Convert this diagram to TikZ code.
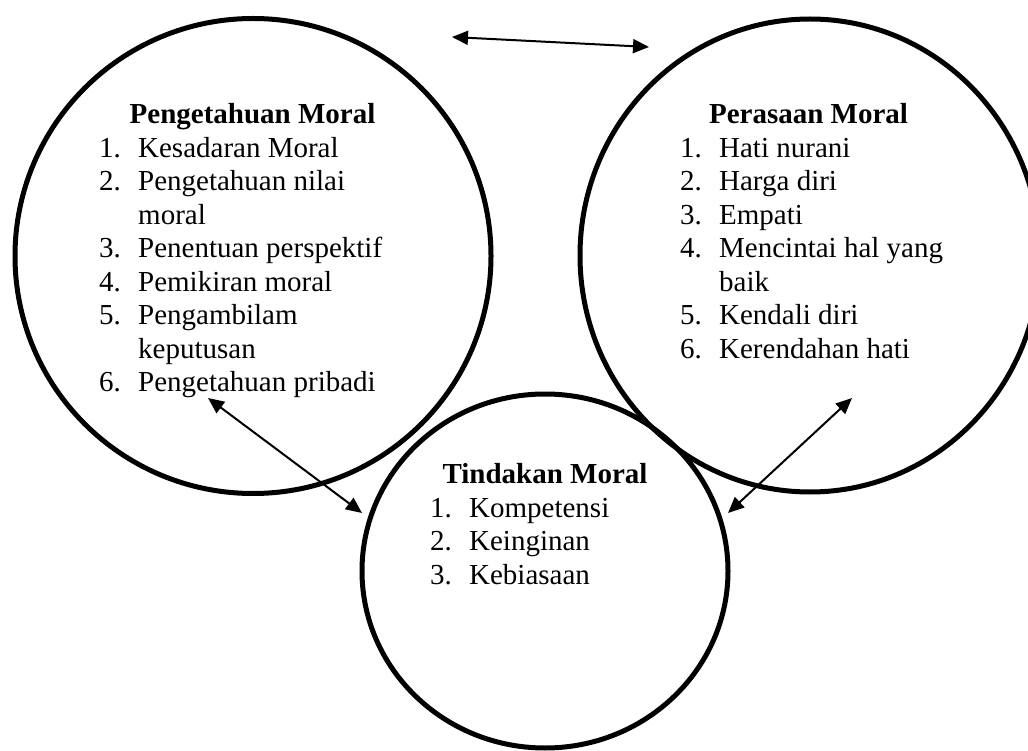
\documentclass[tikz,border=0pt]{standalone}
\usepackage{fontspec}
\setmainfont{Liberation Serif}
\usetikzlibrary{arrows.meta,shapes.geometric}
\begin{document}
\begin{tikzpicture}[x=1pt,y=-1pt,
  ring/.style={draw=black, line width=5pt, ellipse, inner sep=0pt, outer sep=0pt},
  conn/.style={line width=2pt, {Triangle[length=16pt,width=14pt]}-{Triangle[length=16pt,width=14pt]}},
  ttl/.style={font=\fontsize{29}{33.5}\selectfont\bfseries, anchor=base, inner sep=0pt},
  lst/.style={font=\fontsize{29}{33.5}\selectfont, anchor=base west, inner sep=0pt}
]
\useasboundingbox (0,0) rectangle (1028,751);

% circles
\node[ring, minimum width=476pt, minimum height=475pt] (cknow) at (253,256) {};
\node[ring, minimum width=460pt, minimum height=473pt] (cfeel) at (810,255.5) {};
\node[ring, minimum width=366pt, minimum height=354pt] (cact) at (545,571) {};

% texts
\node[ttl] (tknow) at (252.5,124) {Pengetahuan Moral};
\node[lst] (lknow) at (99,157.5) {\begin{tabular}[t]{@{}p{39pt}@{}l@{}}
1. & Kesadaran Moral\\
2. & Pengetahuan nilai\\
   & moral\\
3. & Penentuan perspektif\\
4. & Pemikiran moral\\
5. & Pengambilam\\
   & keputusan\\
6. & Pengetahuan pribadi
\end{tabular}};

\node[ttl] (tfeel) at (808.5,124) {Perasaan Moral};
\node[lst] (lfeel) at (680,157.5) {\begin{tabular}[t]{@{}p{39pt}@{}l@{}}
1. & Hati nurani\\
2. & Harga diri\\
3. & Empati\\
4. & Mencintai hal yang\\
   & baik\\
5. & Kendali diri\\
6. & Kerendahan hati
\end{tabular}};

\node[ttl] (tact) at (545,483) {Tindakan Moral};
\node[lst] (lact) at (430,517) {\begin{tabular}[t]{@{}p{39pt}@{}l@{}}
1. & Kompetensi\\
2. & Keinginan\\
3. & Kebiasaan
\end{tabular}};

% arrow end points
\coordinate (ta) at (452,37);
\coordinate (tb) at (649,47);
\coordinate (la) at (208,398);
\coordinate (lb) at (362,513);
\coordinate (ra) at (852,398);
\coordinate (rb) at (728,513);

\draw[conn] (ta) -- (tb);
\draw[conn] (la) -- (lb);
\draw[conn] (ra) -- (rb);
\end{tikzpicture}
\end{document}
